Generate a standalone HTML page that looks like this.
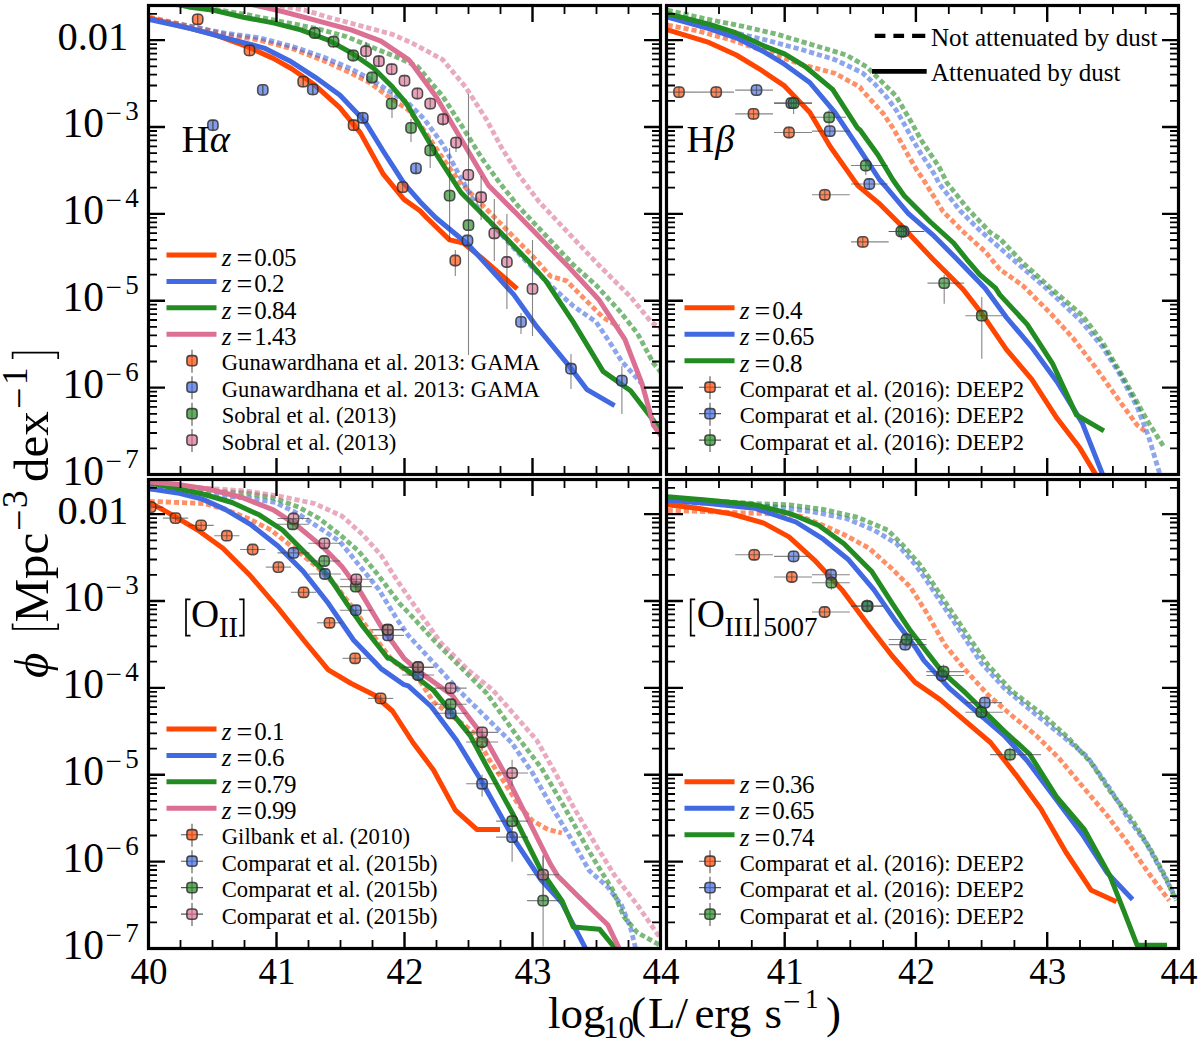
<!DOCTYPE html><html><head><meta charset="utf-8"><style>html,body{margin:0;padding:0;background:#fff;overflow:hidden}svg{display:block}</style></head><body><svg width="1200" height="1047" viewBox="0 0 1200 1047">
<rect width="1200" height="1047" fill="#fff"/>
<defs>
<clipPath id="cTL"><rect x="148.5" y="5.5" width="512" height="469"/></clipPath>
<clipPath id="cTR"><rect x="666.5" y="5.5" width="512" height="469"/></clipPath>
<clipPath id="cBL"><rect x="148.5" y="479.5" width="512" height="469"/></clipPath>
<clipPath id="cBR"><rect x="666.5" y="479.5" width="512" height="469"/></clipPath>
</defs>
<g clip-path="url(#cTL)" fill="none" stroke-linejoin="round">
<path d="M149.6,17.2 L190.8,26.4 L225.2,34.4 L259.6,40.1 L294.0,49.3 L323.8,60.7 L351.2,73.3 L369.6,82.5 L387.9,96.3 L408.5,110.0 L424.4,130.6 L442.7,158.1 L458.8,181.0 L532.1,255.6 L550.4,276.2 L566.5,280.8 L584.8,299.2 L603.1,317.5 L619.2,326.7" stroke="#ff4500" stroke-opacity="0.6" stroke-width="4.8" stroke-dasharray="5.2 2.9"/>
<path d="M149.6,18.3 L190.8,26.4 L225.2,33.2 L259.6,37.8 L294.0,47.0 L323.8,57.3 L351.2,68.8 L374.2,81.4 L397.1,96.3 L408.3,103.1 L424.4,119.2 L442.7,144.4 L458.8,174.2 L479.4,210.8 L522.9,257.9 L550.4,285.4 L573.3,306.0 L596.2,322.1 L610.0,342.7 L621.5,361.0 L642.1,384.0" stroke="#4169e1" stroke-opacity="0.6" stroke-width="4.8" stroke-dasharray="5.2 2.9"/>
<path d="M174.8,4.6 L213.8,9.2 L248.1,14.9 L282.5,21.8 L316.9,28.6 L346.7,36.7 L374.2,48.1 L397.1,57.3 L417.5,66.5 L442.7,96.3 L463.3,128.3 L481.7,158.1 L500.0,183.3 L518.3,206.3 L573.3,264.8 L596.2,285.4 L619.2,310.6 L637.5,333.5 L653.5,363.3 L665.0,377.1" stroke="#228b22" stroke-opacity="0.6" stroke-width="4.8" stroke-dasharray="5.2 2.9"/>
<path d="M200.0,-8.0 L259.6,2.3 L305.4,10.3 L328.3,17.2 L362.7,26.4 L392.5,34.4 L412.9,43.5 L442.7,59.6 L465.6,87.1 L486.2,119.2 L502.3,149.0 L518.3,174.2 L539.0,201.7 L596.2,262.5 L630.6,296.9 L651.2,322.1 L665.0,331.2" stroke="#db7093" stroke-opacity="0.6" stroke-width="4.8" stroke-dasharray="5.2 2.9"/>
<path d="M149.6,18.3 L190.8,28.6 L213.8,34.4 L248.1,47.0 L273.3,58.4 L291.7,68.8 L314.6,84.8 L339.8,107.7 L360.4,132.9 L383.3,174.2 L404.0,199.4 L420.0,210.8 L426.7,217.7 L449.6,239.9 L463.3,243.0 L481.7,257.9 L517.2,288.9" stroke="#ff4500" stroke-width="5.0"/>
<path d="M149.6,19.5 L190.8,28.6 L225.2,37.8 L264.2,48.1 L289.4,60.7 L314.6,76.8 L339.8,95.1 L365.0,121.5 L383.3,151.2 L404.0,183.3 L420.0,201.7 L435.8,217.7 L467.9,244.2 L490.8,269.4 L513.8,294.6 L536.7,326.7 L568.8,365.6 L587.1,389.7 L614.6,405.7" stroke="#4169e1" stroke-width="5.0"/>
<path d="M150.0,-2.0 L188.5,6.9 L213.8,10.3 L243.5,17.2 L273.3,22.9 L300.8,29.8 L328.3,40.1 L351.2,52.7 L374.2,68.8 L392.5,87.1 L406.2,103.1 L419.8,126.0 L435.8,153.5 L461.0,192.5 L486.2,217.7 L527.5,260.2 L545.8,280.8 L573.3,322.1 L603.1,371.4 L630.6,390.8 L653.5,420.6 L665.0,436.7" stroke="#228b22" stroke-width="5.0"/>
<path d="M200.0,-8.0 L261.9,6.9 L282.5,11.5 L316.9,20.6 L351.2,29.8 L381.0,41.2 L408.5,59.6 L410.6,61.9 L435.8,96.3 L458.8,135.2 L488.5,185.6 L516.0,213.1 L568.8,267.1 L598.5,299.2 L624.9,339.3 L642.1,384.0 L653.5,425.2 L665.0,441.2" stroke="#db7093" stroke-width="5.0"/>
</g>
<g clip-path="url(#cTR)" fill="none" stroke-linejoin="round">
<path d="M667.6,25.2 L697.4,30.9 L731.8,40.1 L766.1,51.6 L800.5,64.2 L834.9,73.3 L860.1,87.1 L861.2,89.2 L871.7,100.8 L883.3,113.7 L892.7,127.7 L900.8,141.7 L909.0,156.8 L917.2,170.8 L923.0,179.0 L943.0,211.5 L964.0,232.5 L985.1,251.5 L999.8,269.3 L1022.6,285.4 L1050.1,312.9 L1073.0,338.1 L1095.9,367.9 L1118.8,400.0 L1137.2,425.2 L1146.3,432.1" stroke="#ff4500" stroke-opacity="0.6" stroke-width="4.8" stroke-dasharray="5.2 2.9"/>
<path d="M667.6,17.2 L697.4,22.9 L731.8,32.1 L766.1,40.1 L800.5,49.3 L834.9,59.6 L862.3,72.8 L875.2,84.5 L886.8,97.3 L896.2,110.2 L904.3,124.2 L912.5,139.3 L920.7,153.3 L930.0,167.3 L935.8,176.7 L938.8,183.2 L959.9,210.5 L979.8,230.4 L995.6,244.1 L1011.1,257.9 L1045.5,287.7 L1079.9,319.8 L1102.8,347.3 L1118.8,372.5 L1137.2,406.9 L1148.6,436.7 L1160.1,474.9" stroke="#4169e1" stroke-opacity="0.6" stroke-width="4.8" stroke-dasharray="5.2 2.9"/>
<path d="M667.6,10.3 L708.8,19.5 L743.2,26.4 L777.6,34.4 L812.0,44.7 L846.3,55.0 L867.0,67.0 L883.3,83.3 L896.2,96.2 L904.3,110.2 L912.5,124.2 L920.7,139.3 L930.0,153.3 L939.3,167.3 L947.2,183.2 L968.3,209.4 L990.3,232.5 L1000.0,238.8 L1022.6,262.5 L1050.1,287.7 L1082.2,315.2 L1102.8,342.7 L1125.7,381.7 L1148.6,422.9 L1164.7,448.1" stroke="#228b22" stroke-opacity="0.6" stroke-width="4.8" stroke-dasharray="5.2 2.9"/>
<path d="M667.6,29.8 L708.8,42.4 L736.3,55.0 L759.2,68.8 L784.5,85.9 L809.7,112.3 L830.3,146.7 L857.8,185.6 L880.0,204.2 L901.0,225.2 L932.5,258.8 L963.0,289.3 L981.3,312.9 L1006.5,349.6 L1031.8,379.4 L1057.0,418.3 L1079.9,448.1 L1095.9,474.9" stroke="#ff4500" stroke-width="5.0"/>
<path d="M667.6,17.2 L708.8,28.6 L736.3,37.8 L761.5,50.4 L784.5,64.2 L809.7,82.5 L834.9,112.3 L860.0,149.8 L879.8,180.0 L886.3,187.4 L908.4,213.6 L932.5,234.6 L953.6,255.7 L985.1,288.2 L1006.5,317.5 L1031.8,347.3 L1057.0,381.7 L1082.2,422.9 L1102.8,474.9" stroke="#4169e1" stroke-width="5.0"/>
<path d="M667.6,13.8 L708.8,24.1 L734.0,32.1 L763.8,45.8 L784.5,53.9 L805.1,66.5 L832.6,89.4 L857.8,128.3 L860.0,130.0 L878.0,155.0 L893.0,180.0 L904.2,195.8 L930.4,222.0 L953.6,243.0 L966.2,258.8 L979.8,274.6 L995.6,288.2 L999.7,294.6 L1027.2,324.4 L1052.4,363.3 L1076.4,414.9 L1103.9,430.9" stroke="#228b22" stroke-width="5.0"/>
</g>
<g clip-path="url(#cBL)" fill="none" stroke-linejoin="round">
<path d="M149.6,501.4 L179.4,502.5 L204.6,503.6 L225.2,509.4 L248.1,518.5 L271.0,530.0 L294.0,548.3 L316.9,566.7 L335.2,585.0 L351.2,605.6 L369.6,630.8 L392.5,660.6 L420.0,681.2 L433.5,701.9 L474.8,733.3 L488.5,758.5 L502.3,779.2 L518.3,804.4 L532.1,820.4 L548.1,829.6 L561.9,833.0" stroke="#ff4500" stroke-opacity="0.6" stroke-width="4.8" stroke-dasharray="5.2 2.9"/>
<path d="M149.6,488.8 L213.8,495.6 L248.1,497.9 L275.6,502.5 L298.5,514.0 L319.2,527.7 L339.8,541.5 L360.4,566.7 L378.8,589.6 L397.1,619.4 L408.3,635.4 L435.8,665.2 L458.8,690.4 L511.5,742.5 L532.1,772.3 L550.4,804.4 L571.0,838.8 L589.4,870.8 L607.7,886.9 L621.5,905.2 L630.6,928.1 L635.2,946.5 L637.5,957.9" stroke="#4169e1" stroke-opacity="0.6" stroke-width="4.8" stroke-dasharray="5.2 2.9"/>
<path d="M149.6,486.5 L213.8,491.0 L248.1,493.3 L273.3,497.9 L298.5,507.1 L319.2,518.5 L339.8,534.6 L358.1,550.6 L378.8,575.8 L399.4,603.3 L408.3,612.5 L435.8,642.3 L463.3,669.8 L486.2,692.7 L518.3,737.9 L541.2,767.7 L564.2,806.7 L587.1,847.9 L600.8,870.8 L612.3,889.2 L623.8,916.7 L637.5,932.7 L658.1,944.2 L669.6,948.8" stroke="#228b22" stroke-opacity="0.6" stroke-width="4.8" stroke-dasharray="5.2 2.9"/>
<path d="M149.6,484.2 L213.8,488.8 L245.8,491.0 L282.5,496.8 L314.6,503.6 L342.1,516.2 L362.7,534.6 L381.0,555.2 L397.1,580.4 L412.9,603.3 L440.4,642.3 L467.9,669.8 L493.1,690.4 L536.7,740.2 L555.0,772.3 L573.3,806.7 L596.2,845.6 L614.6,875.4 L637.5,905.2 L658.1,935.0 L669.6,941.9" stroke="#db7093" stroke-opacity="0.6" stroke-width="4.8" stroke-dasharray="5.2 2.9"/>
<path d="M149.6,502.5 L172.5,515.1 L197.7,530.0 L222.9,548.3 L250.4,575.8 L277.9,607.9 L305.4,642.3 L328.3,669.8 L351.2,683.5 L374.2,695.0 L392.5,711.0 L412.9,742.5 L433.5,770.0 L455.3,810.1 L477.1,829.6 L500.0,829.6" stroke="#ff4500" stroke-width="5.0"/>
<path d="M149.6,488.8 L179.4,493.3 L202.3,499.1 L225.2,509.4 L250.4,524.3 L277.9,546.0 L303.1,571.2 L328.3,603.3 L353.5,640.0 L381.0,668.6 L404.0,684.7 L408.3,685.8 L431.2,706.5 L456.5,740.2 L481.7,781.5 L513.8,838.8 L541.2,880.0 L561.9,902.9 L591.7,960.2" stroke="#4169e1" stroke-width="5.0"/>
<path d="M149.6,483.0 L179.4,488.8 L204.6,494.5 L232.1,502.5 L259.6,515.1 L282.5,530.0 L305.4,552.9 L328.3,575.8 L346.7,603.3 L362.7,626.2 L387.9,658.3 L390.0,658.3 L412.9,674.4 L433.5,690.4 L470.2,735.6 L486.2,765.4 L513.8,815.8 L541.2,870.8 L561.9,900.6 L573.3,927.0 L599.7,929.3 L619.2,953.3" stroke="#228b22" stroke-width="5.0"/>
<path d="M149.6,481.9 L179.4,484.6 L209.2,489.2 L241.2,497.2 L273.3,509.8 L296.2,525.0 L323.8,547.9 L342.1,566.7 L360.4,591.9 L381.0,626.2 L404.0,658.3 L419.8,672.1 L451.9,695.0 L486.2,740.2 L509.2,781.5 L527.5,818.1 L550.4,864.0 L557.3,875.4 L577.9,896.0 L607.7,924.7 L621.5,953.3" stroke="#db7093" stroke-width="5.0"/>
</g>
<g clip-path="url(#cBR)" fill="none" stroke-linejoin="round">
<path d="M667.6,510.5 L708.8,511.7 L743.2,512.8 L777.6,514.0 L800.5,516.2 L823.4,525.4 L846.3,535.7 L869.2,548.3 L892.2,569.0 L910.5,587.3 L926.5,612.5 L944.7,644.6 L965.3,669.8 L988.2,695.0 L1011.1,715.0 L1036.3,735.6 L1059.2,758.5 L1082.2,786.0 L1107.4,815.8 L1128.0,843.3 L1148.6,873.1 L1169.2,900.6" stroke="#ff4500" stroke-opacity="0.6" stroke-width="4.8" stroke-dasharray="5.2 2.9"/>
<path d="M667.6,502.5 L731.8,503.6 L777.6,507.1 L812.0,511.7 L846.3,518.5 L873.8,530.0 L896.8,543.8 L915.1,564.4 L926.5,580.4 L944.7,607.9 L963.0,635.4 L981.3,662.9 L1004.2,688.1 L1036.3,714.9 L1059.2,733.3 L1086.8,756.2 L1109.7,788.3 L1128.0,818.1 L1146.3,843.3 L1160.1,868.5 L1176.1,898.3" stroke="#4169e1" stroke-opacity="0.6" stroke-width="4.8" stroke-dasharray="5.2 2.9"/>
<path d="M667.6,497.9 L754.7,503.6 L789.0,504.8 L823.4,509.4 L857.8,517.4 L887.6,530.0 L903.6,546.0 L919.7,564.4 L930.9,580.4 L949.2,607.9 L967.6,635.4 L988.2,665.2 L1011.1,690.4 L1043.2,714.9 L1068.4,737.9 L1091.3,763.1 L1109.7,790.6 L1132.6,820.4 L1150.9,850.2 L1164.7,875.4 L1176.1,900.6" stroke="#228b22" stroke-opacity="0.6" stroke-width="4.8" stroke-dasharray="5.2 2.9"/>
<path d="M667.6,504.8 L697.4,508.2 L731.8,514.0 L763.8,523.1 L789.0,536.9 L814.2,559.8 L841.8,589.6 L869.2,626.2 L892.2,656.0 L915.1,682.4 L940.1,699.6 L990.5,742.5 L1015.7,774.6 L1040.9,809.0 L1066.1,852.5 L1091.3,890.3 L1116.5,901.8" stroke="#ff4500" stroke-width="5.0"/>
<path d="M667.6,500.2 L708.8,503.6 L754.7,508.2 L795.9,522.0 L823.4,539.2 L848.6,559.8 L873.8,589.6 L894.5,619.4 L915.1,646.9 L924.0,660.6 L949.2,688.1 L1004.2,735.6 L1027.2,760.8 L1054.7,797.5 L1082.2,834.2 L1107.4,873.1 L1132.6,899.5" stroke="#4169e1" stroke-width="5.0"/>
<path d="M667.6,496.8 L708.8,500.2 L754.7,504.8 L791.3,514.0 L818.8,525.4 L844.0,543.8 L871.5,571.2 L892.2,603.3 L910.5,630.8 L926.5,651.5 L942.4,672.1 L965.3,692.7 L1004.2,731.0 L1029.5,754.0 L1057.0,797.5 L1084.5,829.6 L1109.7,875.4 L1123.4,909.8 L1137.2,945.3 L1167.0,945.3" stroke="#228b22" stroke-width="5.0"/>
</g>
<g clip-path="url(#cTL)">
<g stroke="#2a2a2a" stroke-opacity="0.8" stroke-width="1.6">
<rect x="192.6" y="14.2" width="10.2" height="10.2" rx="3.6" fill="#ff4500" fill-opacity="0.65"/>
<rect x="244.4" y="45.3" width="10.2" height="10.2" rx="3.6" fill="#ff4500" fill-opacity="0.65"/>
<rect x="298.1" y="76.5" width="10.2" height="10.2" rx="3.6" fill="#ff4500" fill-opacity="0.65"/>
<rect x="348.5" y="120.1" width="10.2" height="10.2" rx="3.6" fill="#ff4500" fill-opacity="0.65"/>
<rect x="397.6" y="182.0" width="10.2" height="10.2" rx="3.6" fill="#ff4500" fill-opacity="0.65"/>
<rect x="450.2" y="255.4" width="10.2" height="10.2" rx="3.6" fill="#ff4500" fill-opacity="0.65"/>
<rect x="207.8" y="120.1" width="10.2" height="10.2" rx="3.6" fill="#4169e1" fill-opacity="0.65"/>
<rect x="257.7" y="84.8" width="10.2" height="10.2" rx="3.6" fill="#4169e1" fill-opacity="0.65"/>
<rect x="307.7" y="84.3" width="10.2" height="10.2" rx="3.6" fill="#4169e1" fill-opacity="0.65"/>
<rect x="357.7" y="112.7" width="10.2" height="10.2" rx="3.6" fill="#4169e1" fill-opacity="0.65"/>
<rect x="410.9" y="163.2" width="10.2" height="10.2" rx="3.6" fill="#4169e1" fill-opacity="0.65"/>
<rect x="462.4" y="235.4" width="10.2" height="10.2" rx="3.6" fill="#4169e1" fill-opacity="0.65"/>
<rect x="515.9" y="316.8" width="10.2" height="10.2" rx="3.6" fill="#4169e1" fill-opacity="0.65"/>
<rect x="565.9" y="363.6" width="10.2" height="10.2" rx="3.6" fill="#4169e1" fill-opacity="0.65"/>
<rect x="616.8" y="375.5" width="10.2" height="10.2" rx="3.6" fill="#4169e1" fill-opacity="0.65"/>
<rect x="309.6" y="27.9" width="10.2" height="10.2" rx="3.6" fill="#228b22" fill-opacity="0.65"/>
<rect x="328.4" y="36.6" width="10.2" height="10.2" rx="3.6" fill="#228b22" fill-opacity="0.65"/>
<rect x="348.1" y="50.4" width="10.2" height="10.2" rx="3.6" fill="#228b22" fill-opacity="0.65"/>
<rect x="366.9" y="72.4" width="10.2" height="10.2" rx="3.6" fill="#228b22" fill-opacity="0.65"/>
<rect x="386.6" y="98.5" width="10.2" height="10.2" rx="3.6" fill="#228b22" fill-opacity="0.65"/>
<rect x="405.9" y="122.8" width="10.2" height="10.2" rx="3.6" fill="#228b22" fill-opacity="0.65"/>
<rect x="425.1" y="145.3" width="10.2" height="10.2" rx="3.6" fill="#228b22" fill-opacity="0.65"/>
<rect x="444.5" y="190.5" width="10.2" height="10.2" rx="3.6" fill="#228b22" fill-opacity="0.65"/>
<rect x="463.4" y="220.1" width="10.2" height="10.2" rx="3.6" fill="#228b22" fill-opacity="0.65"/>
<rect x="360.9" y="46.1" width="10.2" height="10.2" rx="3.6" fill="#db7093" fill-opacity="0.65"/>
<rect x="373.8" y="56.1" width="10.2" height="10.2" rx="3.6" fill="#db7093" fill-opacity="0.65"/>
<rect x="386.6" y="64.1" width="10.2" height="10.2" rx="3.6" fill="#db7093" fill-opacity="0.65"/>
<rect x="399.4" y="75.6" width="10.2" height="10.2" rx="3.6" fill="#db7093" fill-opacity="0.65"/>
<rect x="412.3" y="88.4" width="10.2" height="10.2" rx="3.6" fill="#db7093" fill-opacity="0.65"/>
<rect x="425.1" y="98.5" width="10.2" height="10.2" rx="3.6" fill="#db7093" fill-opacity="0.65"/>
<rect x="437.9" y="114.1" width="10.2" height="10.2" rx="3.6" fill="#db7093" fill-opacity="0.65"/>
<rect x="450.9" y="137.5" width="10.2" height="10.2" rx="3.6" fill="#db7093" fill-opacity="0.65"/>
<rect x="463.2" y="169.7" width="10.2" height="10.2" rx="3.6" fill="#db7093" fill-opacity="0.65"/>
<rect x="476.0" y="192.1" width="10.2" height="10.2" rx="3.6" fill="#db7093" fill-opacity="0.65"/>
<rect x="489.2" y="228.2" width="10.2" height="10.2" rx="3.6" fill="#db7093" fill-opacity="0.65"/>
<rect x="501.8" y="256.9" width="10.2" height="10.2" rx="3.6" fill="#db7093" fill-opacity="0.65"/>
<rect x="527.4" y="283.8" width="10.2" height="10.2" rx="3.6" fill="#db7093" fill-opacity="0.65"/>
</g>
<g stroke="#444" stroke-width="1.1" stroke-opacity="0.65" fill="none">
<path d="M468.5,94 V355"/>
<path d="M449.6,148 V241"/>
<path d="M455.3,250 V276"/>
<path d="M481.1,176 V220"/>
<path d="M494.3,199 V261"/>
<path d="M506.9,214 V309"/>
<path d="M532.5,240 V336"/>
<path d="M521,313 V334"/>
<path d="M571,354 V389"/>
<path d="M621.9,366 V414"/>
<path d="M411,119 V142"/>
<path d="M430.2,137 V168"/>
<path d="M443,114 V126"/>
<path d="M456,137 V152"/>
<path d="M392,92 V118"/>
<path d="M366.1,42 V60"/>
<path d="M378.8,55 V67"/>
<path d="M197.7,14 V25"/>
<path d="M212.9,120 V131"/>
<path d="M262.8,86 V94"/>
<path d="M312.8,85 V94"/>
<path d="M303.2,77 V87"/>
<path d="M249.5,46 V55"/>
<path d="M353.6,121 V130"/>
<path d="M362.8,113 V122"/>
<path d="M416,164 V173"/>
<path d="M197.7,13.3 V25.3"/>
<path d="M249.5,44.4 V56.4"/>
<path d="M303.2,75.6 V87.6"/>
<path d="M353.6,119.2 V131.2"/>
<path d="M402.7,181.1 V193.1"/>
<path d="M455.3,254.5 V266.5"/>
<path d="M212.9,119.2 V131.2"/>
<path d="M262.8,83.9 V95.9"/>
<path d="M312.8,83.4 V95.4"/>
<path d="M362.8,111.8 V123.8"/>
<path d="M416,162.3 V174.3"/>
<path d="M467.5,234.5 V246.5"/>
<path d="M521,315.9 V327.9"/>
<path d="M571,362.7 V374.7"/>
<path d="M621.9,374.6 V386.6"/>
<path d="M314.7,27 V39"/>
<path d="M333.5,35.7 V47.7"/>
<path d="M353.2,49.5 V61.5"/>
<path d="M372,71.5 V83.5"/>
<path d="M391.7,97.6 V109.6"/>
<path d="M411,121.9 V133.9"/>
<path d="M430.2,144.4 V156.4"/>
<path d="M449.6,189.6 V201.6"/>
<path d="M468.5,219.2 V231.2"/>
<path d="M366,45.2 V57.2"/>
<path d="M378.9,55.2 V67.2"/>
<path d="M391.7,63.2 V75.2"/>
<path d="M404.5,74.7 V86.7"/>
<path d="M417.4,87.5 V99.5"/>
<path d="M430.2,97.6 V109.6"/>
<path d="M443,113.2 V125.2"/>
<path d="M456,136.6 V148.6"/>
<path d="M468.3,168.8 V180.8"/>
<path d="M481.1,191.2 V203.2"/>
<path d="M494.3,227.3 V239.3"/>
<path d="M506.9,256 V268"/>
<path d="M532.5,282.9 V294.9"/>
</g></g>
<g clip-path="url(#cTR)">
<g stroke="#2a2a2a" stroke-opacity="0.8" stroke-width="1.6">
<rect x="673.9" y="87.0" width="10.2" height="10.2" rx="3.6" fill="#ff4500" fill-opacity="0.65"/>
<rect x="711.1" y="87.0" width="10.2" height="10.2" rx="3.6" fill="#ff4500" fill-opacity="0.65"/>
<rect x="748.4" y="108.8" width="10.2" height="10.2" rx="3.6" fill="#ff4500" fill-opacity="0.65"/>
<rect x="783.9" y="127.4" width="10.2" height="10.2" rx="3.6" fill="#ff4500" fill-opacity="0.65"/>
<rect x="819.7" y="189.7" width="10.2" height="10.2" rx="3.6" fill="#ff4500" fill-opacity="0.65"/>
<rect x="857.7" y="236.8" width="10.2" height="10.2" rx="3.6" fill="#ff4500" fill-opacity="0.65"/>
<rect x="751.4" y="85.0" width="10.2" height="10.2" rx="3.6" fill="#4169e1" fill-opacity="0.65"/>
<rect x="786.2" y="98.0" width="10.2" height="10.2" rx="3.6" fill="#4169e1" fill-opacity="0.65"/>
<rect x="824.7" y="126.0" width="10.2" height="10.2" rx="3.6" fill="#4169e1" fill-opacity="0.65"/>
<rect x="864.2" y="178.9" width="10.2" height="10.2" rx="3.6" fill="#4169e1" fill-opacity="0.65"/>
<rect x="898.5" y="226.4" width="10.2" height="10.2" rx="3.6" fill="#4169e1" fill-opacity="0.65"/>
<rect x="788.5" y="98.0" width="10.2" height="10.2" rx="3.6" fill="#228b22" fill-opacity="0.65"/>
<rect x="824.0" y="112.2" width="10.2" height="10.2" rx="3.6" fill="#228b22" fill-opacity="0.65"/>
<rect x="860.7" y="160.4" width="10.2" height="10.2" rx="3.6" fill="#228b22" fill-opacity="0.65"/>
<rect x="896.2" y="226.4" width="10.2" height="10.2" rx="3.6" fill="#228b22" fill-opacity="0.65"/>
<rect x="939.1" y="278.0" width="10.2" height="10.2" rx="3.6" fill="#228b22" fill-opacity="0.65"/>
<rect x="976.7" y="310.6" width="10.2" height="10.2" rx="3.6" fill="#228b22" fill-opacity="0.65"/>
</g>
<g stroke="#444" stroke-width="1.1" stroke-opacity="0.65" fill="none">
<path d="M667.6,92.1 H697.4"/>
<path d="M679,86.1 V98.1"/>
<path d="M697.4,92.1 H734"/>
<path d="M716.2,86.1 V98.1"/>
<path d="M735.2,113.9 H773"/>
<path d="M753.5,107.9 V119.9"/>
<path d="M774,132.5 H812"/>
<path d="M789,126.5 V138.5"/>
<path d="M812,194.8 H849.8"/>
<path d="M824.8,188.8 V200.8"/>
<path d="M851,241.9 H888.7"/>
<path d="M862.8,235.9 V247.9"/>
<path d="M735.2,90.1 H773"/>
<path d="M756.5,84.1 V96.1"/>
<path d="M774,103.1 H812"/>
<path d="M791.3,97.1 V109.1"/>
<path d="M812,131.1 H849.8"/>
<path d="M829.8,125.1 V137.1"/>
<path d="M851,184 H887.6"/>
<path d="M869.3,178 V190"/>
<path d="M888.7,231.5 H924.3"/>
<path d="M903.6,225.5 V237.5"/>
<path d="M774,103.1 H812"/>
<path d="M793.6,96 V114"/>
<path d="M812,117.3 H846"/>
<path d="M829.1,110 V125"/>
<path d="M851,165.5 H887.6"/>
<path d="M865.8,158 V175"/>
<path d="M888.7,231.5 H924.3"/>
<path d="M901.3,223 V240"/>
<path d="M927.5,283.1 H964.1"/>
<path d="M944.2,275 V303.7"/>
<path d="M965.3,315.7 H1002"/>
<path d="M981.8,296.9 V358.8"/>
</g></g>
<g clip-path="url(#cBL)">
<g stroke="#2a2a2a" stroke-opacity="0.8" stroke-width="1.6">
<rect x="145.6" y="502.0" width="10.2" height="10.2" rx="3.6" fill="#ff4500" fill-opacity="0.65"/>
<rect x="170.4" y="513.0" width="10.2" height="10.2" rx="3.6" fill="#ff4500" fill-opacity="0.65"/>
<rect x="196.0" y="520.3" width="10.2" height="10.2" rx="3.6" fill="#ff4500" fill-opacity="0.65"/>
<rect x="221.7" y="530.6" width="10.2" height="10.2" rx="3.6" fill="#ff4500" fill-opacity="0.65"/>
<rect x="247.6" y="544.4" width="10.2" height="10.2" rx="3.6" fill="#ff4500" fill-opacity="0.65"/>
<rect x="273.3" y="562.0" width="10.2" height="10.2" rx="3.6" fill="#ff4500" fill-opacity="0.65"/>
<rect x="298.5" y="587.2" width="10.2" height="10.2" rx="3.6" fill="#ff4500" fill-opacity="0.65"/>
<rect x="324.4" y="617.7" width="10.2" height="10.2" rx="3.6" fill="#ff4500" fill-opacity="0.65"/>
<rect x="350.0" y="653.2" width="10.2" height="10.2" rx="3.6" fill="#ff4500" fill-opacity="0.65"/>
<rect x="375.5" y="693.3" width="10.2" height="10.2" rx="3.6" fill="#ff4500" fill-opacity="0.65"/>
<rect x="288.4" y="547.8" width="10.2" height="10.2" rx="3.6" fill="#4169e1" fill-opacity="0.65"/>
<rect x="319.8" y="568.9" width="10.2" height="10.2" rx="3.6" fill="#4169e1" fill-opacity="0.65"/>
<rect x="350.7" y="605.1" width="10.2" height="10.2" rx="3.6" fill="#4169e1" fill-opacity="0.65"/>
<rect x="382.9" y="630.3" width="10.2" height="10.2" rx="3.6" fill="#4169e1" fill-opacity="0.65"/>
<rect x="413.1" y="669.9" width="10.2" height="10.2" rx="3.6" fill="#4169e1" fill-opacity="0.65"/>
<rect x="445.6" y="708.2" width="10.2" height="10.2" rx="3.6" fill="#4169e1" fill-opacity="0.65"/>
<rect x="477.0" y="778.7" width="10.2" height="10.2" rx="3.6" fill="#4169e1" fill-opacity="0.65"/>
<rect x="507.0" y="832.0" width="10.2" height="10.2" rx="3.6" fill="#4169e1" fill-opacity="0.65"/>
<rect x="287.7" y="519.2" width="10.2" height="10.2" rx="3.6" fill="#228b22" fill-opacity="0.65"/>
<rect x="319.1" y="555.9" width="10.2" height="10.2" rx="3.6" fill="#228b22" fill-opacity="0.65"/>
<rect x="350.7" y="581.5" width="10.2" height="10.2" rx="3.6" fill="#228b22" fill-opacity="0.65"/>
<rect x="382.4" y="624.6" width="10.2" height="10.2" rx="3.6" fill="#228b22" fill-opacity="0.65"/>
<rect x="412.6" y="662.4" width="10.2" height="10.2" rx="3.6" fill="#228b22" fill-opacity="0.65"/>
<rect x="445.6" y="699.1" width="10.2" height="10.2" rx="3.6" fill="#228b22" fill-opacity="0.65"/>
<rect x="477.0" y="736.9" width="10.2" height="10.2" rx="3.6" fill="#228b22" fill-opacity="0.65"/>
<rect x="507.0" y="816.0" width="10.2" height="10.2" rx="3.6" fill="#228b22" fill-opacity="0.65"/>
<rect x="538.0" y="895.5" width="10.2" height="10.2" rx="3.6" fill="#228b22" fill-opacity="0.65"/>
<rect x="288.4" y="513.4" width="10.2" height="10.2" rx="3.6" fill="#db7093" fill-opacity="0.65"/>
<rect x="319.3" y="538.2" width="10.2" height="10.2" rx="3.6" fill="#db7093" fill-opacity="0.65"/>
<rect x="351.2" y="574.2" width="10.2" height="10.2" rx="3.6" fill="#db7093" fill-opacity="0.65"/>
<rect x="382.8" y="624.6" width="10.2" height="10.2" rx="3.6" fill="#db7093" fill-opacity="0.65"/>
<rect x="413.1" y="661.9" width="10.2" height="10.2" rx="3.6" fill="#db7093" fill-opacity="0.65"/>
<rect x="445.6" y="683.0" width="10.2" height="10.2" rx="3.6" fill="#db7093" fill-opacity="0.65"/>
<rect x="477.0" y="727.3" width="10.2" height="10.2" rx="3.6" fill="#db7093" fill-opacity="0.65"/>
<rect x="507.0" y="767.9" width="10.2" height="10.2" rx="3.6" fill="#db7093" fill-opacity="0.65"/>
<rect x="538.0" y="869.6" width="10.2" height="10.2" rx="3.6" fill="#db7093" fill-opacity="0.65"/>
</g>
<g stroke="#444" stroke-width="1.1" stroke-opacity="0.65" fill="none">
<path d="M138.1,507.1 H163.29999999999998"/>
<path d="M150.7,503.1 V511.1"/>
<path d="M162.9,518.1 H188.1"/>
<path d="M175.5,514.1 V522.1"/>
<path d="M188.5,525.4 H213.7"/>
<path d="M201.1,521.4 V529.4"/>
<path d="M214.20000000000002,535.7 H239.4"/>
<path d="M226.8,531.7 V539.7"/>
<path d="M240.1,549.5 H265.3"/>
<path d="M252.7,545.5 V553.5"/>
<path d="M265.79999999999995,567.1 H291.0"/>
<path d="M278.4,563.1 V571.1"/>
<path d="M291.0,592.3 H316.20000000000005"/>
<path d="M303.6,588.3 V596.3"/>
<path d="M316.9,622.8 H342.1"/>
<path d="M329.5,618.8 V626.8"/>
<path d="M342.5,658.3 H367.70000000000005"/>
<path d="M355.1,654.3 V662.3"/>
<path d="M368.0,698.4 H393.20000000000005"/>
<path d="M380.6,694.4 V702.4"/>
<path d="M277.5,552.9 H309.5"/>
<path d="M293.5,547.9 V557.9"/>
<path d="M308.9,574 H340.9"/>
<path d="M324.9,569 V579"/>
<path d="M339.8,610.2 H371.8"/>
<path d="M355.8,605.2 V615.2"/>
<path d="M372,635.4 H404"/>
<path d="M388,630.4 V640.4"/>
<path d="M402.2,675 H434.2"/>
<path d="M418.2,670 V680"/>
<path d="M434.7,713.3 H466.7"/>
<path d="M450.7,708.3 V718.3"/>
<path d="M466.1,783.8 H498.1"/>
<path d="M482.1,774.6 V796.4"/>
<path d="M496.1,837.1 H528.1"/>
<path d="M512.1,822.7 V861.7"/>
<path d="M276.8,524.3 H308.8"/>
<path d="M292.8,519.3 V529.3"/>
<path d="M308.2,561 H340.2"/>
<path d="M324.2,556 V566"/>
<path d="M339.8,586.6 H371.8"/>
<path d="M355.8,581.6 V591.6"/>
<path d="M371.5,629.7 H403.5"/>
<path d="M387.5,624.7 V634.7"/>
<path d="M401.7,667.5 H433.7"/>
<path d="M417.7,662.5 V672.5"/>
<path d="M434.7,704.2 H466.7"/>
<path d="M450.7,699.2 V709.2"/>
<path d="M466.1,742 H498.1"/>
<path d="M482.1,735 V751"/>
<path d="M496.1,821.1 H528.1"/>
<path d="M512.1,812 V830"/>
<path d="M527.1,900.6 H559.1"/>
<path d="M543.1,856 V946.5"/>
<path d="M277.5,518.5 H309.5"/>
<path d="M293.5,513.5 V523.5"/>
<path d="M308.4,543.3 H340.4"/>
<path d="M324.4,538.3 V548.3"/>
<path d="M340.3,579.3 H372.3"/>
<path d="M356.3,574.3 V584.3"/>
<path d="M371.9,629.7 H403.9"/>
<path d="M387.9,624.7 V634.7"/>
<path d="M402.2,667 H434.2"/>
<path d="M418.2,662 V672"/>
<path d="M434.7,688.1 H466.7"/>
<path d="M450.7,683.1 V693.1"/>
<path d="M466.1,732.4 H498.1"/>
<path d="M482.1,727.4 V737.4"/>
<path d="M496.1,773 H528.1"/>
<path d="M512.1,759.7 V786"/>
<path d="M527.1,874.7 H559.1"/>
<path d="M543.1,855 V900"/>
</g></g>
<g clip-path="url(#cBR)">
<g stroke="#2a2a2a" stroke-opacity="0.8" stroke-width="1.6">
<rect x="749.1" y="549.7" width="10.2" height="10.2" rx="3.6" fill="#ff4500" fill-opacity="0.65"/>
<rect x="786.7" y="571.9" width="10.2" height="10.2" rx="3.6" fill="#ff4500" fill-opacity="0.65"/>
<rect x="819.5" y="606.9" width="10.2" height="10.2" rx="3.6" fill="#ff4500" fill-opacity="0.65"/>
<rect x="788.5" y="551.3" width="10.2" height="10.2" rx="3.6" fill="#4169e1" fill-opacity="0.65"/>
<rect x="825.9" y="569.6" width="10.2" height="10.2" rx="3.6" fill="#4169e1" fill-opacity="0.65"/>
<rect x="862.6" y="601.0" width="10.2" height="10.2" rx="3.6" fill="#4169e1" fill-opacity="0.65"/>
<rect x="900.1" y="639.5" width="10.2" height="10.2" rx="3.6" fill="#4169e1" fill-opacity="0.65"/>
<rect x="936.8" y="670.4" width="10.2" height="10.2" rx="3.6" fill="#4169e1" fill-opacity="0.65"/>
<rect x="979.7" y="697.5" width="10.2" height="10.2" rx="3.6" fill="#4169e1" fill-opacity="0.65"/>
<rect x="826.3" y="577.6" width="10.2" height="10.2" rx="3.6" fill="#228b22" fill-opacity="0.65"/>
<rect x="861.9" y="601.0" width="10.2" height="10.2" rx="3.6" fill="#228b22" fill-opacity="0.65"/>
<rect x="901.5" y="634.4" width="10.2" height="10.2" rx="3.6" fill="#228b22" fill-opacity="0.65"/>
<rect x="938.4" y="666.5" width="10.2" height="10.2" rx="3.6" fill="#228b22" fill-opacity="0.65"/>
<rect x="976.2" y="707.1" width="10.2" height="10.2" rx="3.6" fill="#228b22" fill-opacity="0.65"/>
<rect x="1004.9" y="749.5" width="10.2" height="10.2" rx="3.6" fill="#228b22" fill-opacity="0.65"/>
</g>
<g stroke="#444" stroke-width="1.1" stroke-opacity="0.65" fill="none">
<path d="M735.2,554.8 H773"/>
<path d="M754.2,548.8 V560.8"/>
<path d="M774,577 H812"/>
<path d="M791.8,571 V583"/>
<path d="M812,612 H849.8"/>
<path d="M824.6,606 V618"/>
<path d="M774,556.4 H808.5"/>
<path d="M793.6,550.4 V562.4"/>
<path d="M812,574.7 H849.8"/>
<path d="M831,568.7 V580.7"/>
<path d="M851,606.1 H883"/>
<path d="M867.7,600.1 V612.1"/>
<path d="M888.7,644.6 H926.5"/>
<path d="M905.2,638.6 V650.6"/>
<path d="M926.3,675.5 H964.1"/>
<path d="M941.9,669.5 V681.5"/>
<path d="M965.3,702.6 H1002"/>
<path d="M984.8,696.6 V708.6"/>
<path d="M812,582.7 H849.8"/>
<path d="M831.4,575.7 V589.7"/>
<path d="M851,606.1 H883"/>
<path d="M867,599.1 V613.1"/>
<path d="M888.7,639.5 H926.5"/>
<path d="M906.6,632.5 V646.5"/>
<path d="M926.3,671.6 H964.1"/>
<path d="M943.5,664.6 V678.6"/>
<path d="M965.3,712.2 H1003"/>
<path d="M981.3,705.2 V719.2"/>
<path d="M990,754.6 H1041"/>
<path d="M1010,747.6 V761.6"/>
</g></g>
<path d="M166.5,254.95000000000002 H216.5" stroke="#ff4500" stroke-width="5.0"/>
<text x="221.8" y="265.95000000000005" font-family='"Liberation Serif", serif' font-size="25" letter-spacing="-0.5"><tspan font-style="italic">z</tspan><tspan dx="5.5" dy="1" font-size="28">=</tspan><tspan dx="2.5" dy="-1">0.05</tspan></text>
<path d="M166.5,281.40000000000003 H216.5" stroke="#4169e1" stroke-width="5.0"/>
<text x="221.8" y="292.40000000000003" font-family='"Liberation Serif", serif' font-size="25" letter-spacing="-0.5"><tspan font-style="italic">z</tspan><tspan dx="5.5" dy="1" font-size="28">=</tspan><tspan dx="2.5" dy="-1">0.2</tspan></text>
<path d="M166.5,307.85 H216.5" stroke="#228b22" stroke-width="5.0"/>
<text x="221.8" y="318.85" font-family='"Liberation Serif", serif' font-size="25" letter-spacing="-0.5"><tspan font-style="italic">z</tspan><tspan dx="5.5" dy="1" font-size="28">=</tspan><tspan dx="2.5" dy="-1">0.84</tspan></text>
<path d="M166.5,334.3 H216.5" stroke="#db7093" stroke-width="5.0"/>
<text x="221.8" y="345.3" font-family='"Liberation Serif", serif' font-size="25" letter-spacing="-0.5"><tspan font-style="italic">z</tspan><tspan dx="5.5" dy="1" font-size="28">=</tspan><tspan dx="2.5" dy="-1">1.43</tspan></text>
<path d="M192.0,349.75 V372.75" stroke="#555" stroke-width="1.1"/>
<rect x="186.9" y="355.6" width="10.2" height="10.2" rx="3.3" fill="#ff4500" fill-opacity="0.7" stroke="#2a2a2a" stroke-opacity="0.8" stroke-width="1.6"/>
<text x="221.8" y="370.15" font-family='"Liberation Serif", serif' font-size="22.6">Gunawardhana et al. 2013: GAMA</text>
<path d="M192.0,376.20000000000005 V399.20000000000005" stroke="#555" stroke-width="1.1"/>
<rect x="186.9" y="382.1" width="10.2" height="10.2" rx="3.3" fill="#4169e1" fill-opacity="0.7" stroke="#2a2a2a" stroke-opacity="0.8" stroke-width="1.6"/>
<text x="221.8" y="396.6" font-family='"Liberation Serif", serif' font-size="22.6">Gunawardhana et al. 2013: GAMA</text>
<path d="M192.0,402.65000000000003 V425.65000000000003" stroke="#555" stroke-width="1.1"/>
<rect x="186.9" y="408.6" width="10.2" height="10.2" rx="3.3" fill="#228b22" fill-opacity="0.7" stroke="#2a2a2a" stroke-opacity="0.8" stroke-width="1.6"/>
<text x="221.8" y="423.05" font-family='"Liberation Serif", serif' font-size="22.6">Sobral et al. (2013)</text>
<path d="M192.0,429.1 V452.1" stroke="#555" stroke-width="1.1"/>
<rect x="186.9" y="435.0" width="10.2" height="10.2" rx="3.3" fill="#db7093" fill-opacity="0.7" stroke="#2a2a2a" stroke-opacity="0.8" stroke-width="1.6"/>
<text x="221.8" y="449.5" font-family='"Liberation Serif", serif' font-size="22.6">Sobral et al. (2013)</text>
<path d="M684.5,307.85 H734.5" stroke="#ff4500" stroke-width="5.0"/>
<text x="739.8" y="318.85" font-family='"Liberation Serif", serif' font-size="25" letter-spacing="-0.5"><tspan font-style="italic">z</tspan><tspan dx="5.5" dy="1" font-size="28">=</tspan><tspan dx="2.5" dy="-1">0.4</tspan></text>
<path d="M684.5,334.3 H734.5" stroke="#4169e1" stroke-width="5.0"/>
<text x="739.8" y="345.3" font-family='"Liberation Serif", serif' font-size="25" letter-spacing="-0.5"><tspan font-style="italic">z</tspan><tspan dx="5.5" dy="1" font-size="28">=</tspan><tspan dx="2.5" dy="-1">0.65</tspan></text>
<path d="M684.5,360.75 H734.5" stroke="#228b22" stroke-width="5.0"/>
<text x="739.8" y="371.75" font-family='"Liberation Serif", serif' font-size="25" letter-spacing="-0.5"><tspan font-style="italic">z</tspan><tspan dx="5.5" dy="1" font-size="28">=</tspan><tspan dx="2.5" dy="-1">0.8</tspan></text>
<path d="M710.0,376.20000000000005 V399.20000000000005 M699.0,387.20000000000005 H721.0" stroke="#555" stroke-width="1.1"/>
<rect x="704.9" y="382.1" width="10.2" height="10.2" rx="3.3" fill="#ff4500" fill-opacity="0.7" stroke="#2a2a2a" stroke-opacity="0.8" stroke-width="1.6"/>
<text x="739.8" y="396.6" font-family='"Liberation Serif", serif' font-size="22.6">Comparat et al. (2016): DEEP2</text>
<path d="M710.0,402.65000000000003 V425.65000000000003 M699.0,413.65000000000003 H721.0" stroke="#555" stroke-width="1.1"/>
<rect x="704.9" y="408.6" width="10.2" height="10.2" rx="3.3" fill="#4169e1" fill-opacity="0.7" stroke="#2a2a2a" stroke-opacity="0.8" stroke-width="1.6"/>
<text x="739.8" y="423.05" font-family='"Liberation Serif", serif' font-size="22.6">Comparat et al. (2016): DEEP2</text>
<path d="M710.0,429.1 V452.1 M699.0,440.1 H721.0" stroke="#555" stroke-width="1.1"/>
<rect x="704.9" y="435.0" width="10.2" height="10.2" rx="3.3" fill="#228b22" fill-opacity="0.7" stroke="#2a2a2a" stroke-opacity="0.8" stroke-width="1.6"/>
<text x="739.8" y="449.5" font-family='"Liberation Serif", serif' font-size="22.6">Comparat et al. (2016): DEEP2</text>
<path d="M166.5,728.95 H216.5" stroke="#ff4500" stroke-width="5.0"/>
<text x="221.8" y="739.95" font-family='"Liberation Serif", serif' font-size="25" letter-spacing="-0.5"><tspan font-style="italic">z</tspan><tspan dx="5.5" dy="1" font-size="28">=</tspan><tspan dx="2.5" dy="-1">0.1</tspan></text>
<path d="M166.5,755.4000000000001 H216.5" stroke="#4169e1" stroke-width="5.0"/>
<text x="221.8" y="766.4000000000001" font-family='"Liberation Serif", serif' font-size="25" letter-spacing="-0.5"><tspan font-style="italic">z</tspan><tspan dx="5.5" dy="1" font-size="28">=</tspan><tspan dx="2.5" dy="-1">0.6</tspan></text>
<path d="M166.5,781.85 H216.5" stroke="#228b22" stroke-width="5.0"/>
<text x="221.8" y="792.85" font-family='"Liberation Serif", serif' font-size="25" letter-spacing="-0.5"><tspan font-style="italic">z</tspan><tspan dx="5.5" dy="1" font-size="28">=</tspan><tspan dx="2.5" dy="-1">0.79</tspan></text>
<path d="M166.5,808.3000000000001 H216.5" stroke="#db7093" stroke-width="5.0"/>
<text x="221.8" y="819.3000000000001" font-family='"Liberation Serif", serif' font-size="25" letter-spacing="-0.5"><tspan font-style="italic">z</tspan><tspan dx="5.5" dy="1" font-size="28">=</tspan><tspan dx="2.5" dy="-1">0.99</tspan></text>
<path d="M192.0,823.75 V846.75 M181.0,834.75 H203.0" stroke="#555" stroke-width="1.1"/>
<rect x="186.9" y="829.6" width="10.2" height="10.2" rx="3.3" fill="#ff4500" fill-opacity="0.7" stroke="#2a2a2a" stroke-opacity="0.8" stroke-width="1.6"/>
<text x="221.8" y="844.15" font-family='"Liberation Serif", serif' font-size="22.6">Gilbank et al. (2010)</text>
<path d="M192.0,850.2 V873.2 M181.0,861.2 H203.0" stroke="#555" stroke-width="1.1"/>
<rect x="186.9" y="856.1" width="10.2" height="10.2" rx="3.3" fill="#4169e1" fill-opacity="0.7" stroke="#2a2a2a" stroke-opacity="0.8" stroke-width="1.6"/>
<text x="221.8" y="870.6" font-family='"Liberation Serif", serif' font-size="22.6">Comparat et al. (2015b)</text>
<path d="M192.0,876.65 V899.65 M181.0,887.65 H203.0" stroke="#555" stroke-width="1.1"/>
<rect x="186.9" y="882.5" width="10.2" height="10.2" rx="3.3" fill="#228b22" fill-opacity="0.7" stroke="#2a2a2a" stroke-opacity="0.8" stroke-width="1.6"/>
<text x="221.8" y="897.05" font-family='"Liberation Serif", serif' font-size="22.6">Comparat et al. (2015b)</text>
<path d="M192.0,903.1 V926.1 M181.0,914.1 H203.0" stroke="#555" stroke-width="1.1"/>
<rect x="186.9" y="909.0" width="10.2" height="10.2" rx="3.3" fill="#db7093" fill-opacity="0.7" stroke="#2a2a2a" stroke-opacity="0.8" stroke-width="1.6"/>
<text x="221.8" y="923.5" font-family='"Liberation Serif", serif' font-size="22.6">Comparat et al. (2015b)</text>
<path d="M684.5,781.85 H734.5" stroke="#ff4500" stroke-width="5.0"/>
<text x="739.8" y="792.85" font-family='"Liberation Serif", serif' font-size="25" letter-spacing="-0.5"><tspan font-style="italic">z</tspan><tspan dx="5.5" dy="1" font-size="28">=</tspan><tspan dx="2.5" dy="-1">0.36</tspan></text>
<path d="M684.5,808.3000000000001 H734.5" stroke="#4169e1" stroke-width="5.0"/>
<text x="739.8" y="819.3000000000001" font-family='"Liberation Serif", serif' font-size="25" letter-spacing="-0.5"><tspan font-style="italic">z</tspan><tspan dx="5.5" dy="1" font-size="28">=</tspan><tspan dx="2.5" dy="-1">0.65</tspan></text>
<path d="M684.5,834.75 H734.5" stroke="#228b22" stroke-width="5.0"/>
<text x="739.8" y="845.75" font-family='"Liberation Serif", serif' font-size="25" letter-spacing="-0.5"><tspan font-style="italic">z</tspan><tspan dx="5.5" dy="1" font-size="28">=</tspan><tspan dx="2.5" dy="-1">0.74</tspan></text>
<path d="M710.0,850.2 V873.2 M699.0,861.2 H721.0" stroke="#555" stroke-width="1.1"/>
<rect x="704.9" y="856.1" width="10.2" height="10.2" rx="3.3" fill="#ff4500" fill-opacity="0.7" stroke="#2a2a2a" stroke-opacity="0.8" stroke-width="1.6"/>
<text x="739.8" y="870.6" font-family='"Liberation Serif", serif' font-size="22.6">Comparat et al. (2016): DEEP2</text>
<path d="M710.0,876.65 V899.65 M699.0,887.65 H721.0" stroke="#555" stroke-width="1.1"/>
<rect x="704.9" y="882.5" width="10.2" height="10.2" rx="3.3" fill="#4169e1" fill-opacity="0.7" stroke="#2a2a2a" stroke-opacity="0.8" stroke-width="1.6"/>
<text x="739.8" y="897.05" font-family='"Liberation Serif", serif' font-size="22.6">Comparat et al. (2016): DEEP2</text>
<path d="M710.0,903.1 V926.1 M699.0,914.1 H721.0" stroke="#555" stroke-width="1.1"/>
<rect x="704.9" y="909.0" width="10.2" height="10.2" rx="3.3" fill="#228b22" fill-opacity="0.7" stroke="#2a2a2a" stroke-opacity="0.8" stroke-width="1.6"/>
<text x="739.8" y="923.5" font-family='"Liberation Serif", serif' font-size="22.6">Comparat et al. (2016): DEEP2</text>
<path d="M874.7,35.9 H925.3" stroke="#000" stroke-width="4.2" stroke-dasharray="10.7 8 10.7 8 20"/>
<path d="M872,71.3 H926.7" stroke="#000" stroke-width="4.8"/>
<text x="931" y="46" font-family='"Liberation Serif", serif' font-size="25.1">Not attenuated by dust</text>
<text x="931" y="80.7" font-family='"Liberation Serif", serif' font-size="25.1">Attenuated by dust</text>
<text x="181.5" y="152.4" font-family='"Liberation Serif", serif' font-size="38.5">H<tspan font-style="italic" dx="0.5">α</tspan></text>
<text x="686.5" y="152.4" font-family='"Liberation Serif", serif' font-size="38.5">H<tspan font-style="italic" dx="1">β</tspan></text>
<text y="627.4" font-family='"Liberation Serif", serif' font-size="39"><tspan x="191">O</tspan><tspan x="219" font-size="28.5" y="636.5">II</tspan></text>
<path d="M190.5,599.3 H186 V635.7 H190.5 M239.2,599.3 H243.7 V635.7 H239.2" fill="none" stroke="#000" stroke-width="1.7"/>
<text y="627.4" font-family='"Liberation Serif", serif' font-size="39"><tspan x="696.8">O</tspan><tspan x="724.5" font-size="28" y="636.3">III</tspan><tspan x="763.5" font-size="27" y="636.3">5007</tspan></text>
<path d="M695.2,599.3 H690.7 V635.7 H695.2 M753.5,599.3 H758 V635.7 H753.5" fill="none" stroke="#000" stroke-width="1.7"/>
<path d="M148.5,5.5 v16.5 M148.5,474.5 v-16.5" stroke="#000" stroke-width="2.4"/>
<path d="M180.5,5.5 v8.5 M180.5,474.5 v-8.5" stroke="#000" stroke-width="1.8"/>
<path d="M212.5,5.5 v8.5 M212.5,474.5 v-8.5" stroke="#000" stroke-width="1.8"/>
<path d="M244.5,5.5 v8.5 M244.5,474.5 v-8.5" stroke="#000" stroke-width="1.8"/>
<path d="M276.5,5.5 v16.5 M276.5,474.5 v-16.5" stroke="#000" stroke-width="2.4"/>
<path d="M308.5,5.5 v8.5 M308.5,474.5 v-8.5" stroke="#000" stroke-width="1.8"/>
<path d="M340.5,5.5 v8.5 M340.5,474.5 v-8.5" stroke="#000" stroke-width="1.8"/>
<path d="M372.5,5.5 v8.5 M372.5,474.5 v-8.5" stroke="#000" stroke-width="1.8"/>
<path d="M404.5,5.5 v16.5 M404.5,474.5 v-16.5" stroke="#000" stroke-width="2.4"/>
<path d="M436.5,5.5 v8.5 M436.5,474.5 v-8.5" stroke="#000" stroke-width="1.8"/>
<path d="M468.5,5.5 v8.5 M468.5,474.5 v-8.5" stroke="#000" stroke-width="1.8"/>
<path d="M500.5,5.5 v8.5 M500.5,474.5 v-8.5" stroke="#000" stroke-width="1.8"/>
<path d="M532.5,5.5 v16.5 M532.5,474.5 v-16.5" stroke="#000" stroke-width="2.4"/>
<path d="M564.5,5.5 v8.5 M564.5,474.5 v-8.5" stroke="#000" stroke-width="1.8"/>
<path d="M596.5,5.5 v8.5 M596.5,474.5 v-8.5" stroke="#000" stroke-width="1.8"/>
<path d="M628.5,5.5 v8.5 M628.5,474.5 v-8.5" stroke="#000" stroke-width="1.8"/>
<path d="M660.5,5.5 v16.5 M660.5,474.5 v-16.5" stroke="#000" stroke-width="2.4"/>
<path d="M148.5,474.5 h16.5 M660.5,474.5 h-16.5" stroke="#000" stroke-width="2.4"/>
<path d="M148.5,448.3 h8.5 M660.5,448.3 h-8.5" stroke="#000" stroke-width="1.8"/>
<path d="M148.5,433.0 h8.5 M660.5,433.0 h-8.5" stroke="#000" stroke-width="1.8"/>
<path d="M148.5,422.2 h8.5 M660.5,422.2 h-8.5" stroke="#000" stroke-width="1.8"/>
<path d="M148.5,413.8 h8.5 M660.5,413.8 h-8.5" stroke="#000" stroke-width="1.8"/>
<path d="M148.5,406.9 h8.5 M660.5,406.9 h-8.5" stroke="#000" stroke-width="1.8"/>
<path d="M148.5,401.1 h8.5 M660.5,401.1 h-8.5" stroke="#000" stroke-width="1.8"/>
<path d="M148.5,396.0 h8.5 M660.5,396.0 h-8.5" stroke="#000" stroke-width="1.8"/>
<path d="M148.5,391.6 h8.5 M660.5,391.6 h-8.5" stroke="#000" stroke-width="1.8"/>
<path d="M148.5,387.6 h16.5 M660.5,387.6 h-16.5" stroke="#000" stroke-width="2.4"/>
<path d="M148.5,361.5 h8.5 M660.5,361.5 h-8.5" stroke="#000" stroke-width="1.8"/>
<path d="M148.5,346.2 h8.5 M660.5,346.2 h-8.5" stroke="#000" stroke-width="1.8"/>
<path d="M148.5,335.3 h8.5 M660.5,335.3 h-8.5" stroke="#000" stroke-width="1.8"/>
<path d="M148.5,326.9 h8.5 M660.5,326.9 h-8.5" stroke="#000" stroke-width="1.8"/>
<path d="M148.5,320.0 h8.5 M660.5,320.0 h-8.5" stroke="#000" stroke-width="1.8"/>
<path d="M148.5,314.2 h8.5 M660.5,314.2 h-8.5" stroke="#000" stroke-width="1.8"/>
<path d="M148.5,309.2 h8.5 M660.5,309.2 h-8.5" stroke="#000" stroke-width="1.8"/>
<path d="M148.5,304.7 h8.5 M660.5,304.7 h-8.5" stroke="#000" stroke-width="1.8"/>
<path d="M148.5,300.7 h16.5 M660.5,300.7 h-16.5" stroke="#000" stroke-width="2.4"/>
<path d="M148.5,274.6 h8.5 M660.5,274.6 h-8.5" stroke="#000" stroke-width="1.8"/>
<path d="M148.5,259.3 h8.5 M660.5,259.3 h-8.5" stroke="#000" stroke-width="1.8"/>
<path d="M148.5,248.4 h8.5 M660.5,248.4 h-8.5" stroke="#000" stroke-width="1.8"/>
<path d="M148.5,240.0 h8.5 M660.5,240.0 h-8.5" stroke="#000" stroke-width="1.8"/>
<path d="M148.5,233.1 h8.5 M660.5,233.1 h-8.5" stroke="#000" stroke-width="1.8"/>
<path d="M148.5,227.3 h8.5 M660.5,227.3 h-8.5" stroke="#000" stroke-width="1.8"/>
<path d="M148.5,222.3 h8.5 M660.5,222.3 h-8.5" stroke="#000" stroke-width="1.8"/>
<path d="M148.5,217.8 h8.5 M660.5,217.8 h-8.5" stroke="#000" stroke-width="1.8"/>
<path d="M148.5,213.9 h16.5 M660.5,213.9 h-16.5" stroke="#000" stroke-width="2.4"/>
<path d="M148.5,187.7 h8.5 M660.5,187.7 h-8.5" stroke="#000" stroke-width="1.8"/>
<path d="M148.5,172.4 h8.5 M660.5,172.4 h-8.5" stroke="#000" stroke-width="1.8"/>
<path d="M148.5,161.6 h8.5 M660.5,161.6 h-8.5" stroke="#000" stroke-width="1.8"/>
<path d="M148.5,153.1 h8.5 M660.5,153.1 h-8.5" stroke="#000" stroke-width="1.8"/>
<path d="M148.5,146.3 h8.5 M660.5,146.3 h-8.5" stroke="#000" stroke-width="1.8"/>
<path d="M148.5,140.4 h8.5 M660.5,140.4 h-8.5" stroke="#000" stroke-width="1.8"/>
<path d="M148.5,135.4 h8.5 M660.5,135.4 h-8.5" stroke="#000" stroke-width="1.8"/>
<path d="M148.5,131.0 h8.5 M660.5,131.0 h-8.5" stroke="#000" stroke-width="1.8"/>
<path d="M148.5,127.0 h16.5 M660.5,127.0 h-16.5" stroke="#000" stroke-width="2.4"/>
<path d="M148.5,100.8 h8.5 M660.5,100.8 h-8.5" stroke="#000" stroke-width="1.8"/>
<path d="M148.5,85.5 h8.5 M660.5,85.5 h-8.5" stroke="#000" stroke-width="1.8"/>
<path d="M148.5,74.7 h8.5 M660.5,74.7 h-8.5" stroke="#000" stroke-width="1.8"/>
<path d="M148.5,66.3 h8.5 M660.5,66.3 h-8.5" stroke="#000" stroke-width="1.8"/>
<path d="M148.5,59.4 h8.5 M660.5,59.4 h-8.5" stroke="#000" stroke-width="1.8"/>
<path d="M148.5,53.6 h8.5 M660.5,53.6 h-8.5" stroke="#000" stroke-width="1.8"/>
<path d="M148.5,48.5 h8.5 M660.5,48.5 h-8.5" stroke="#000" stroke-width="1.8"/>
<path d="M148.5,44.1 h8.5 M660.5,44.1 h-8.5" stroke="#000" stroke-width="1.8"/>
<path d="M148.5,40.1 h16.5 M660.5,40.1 h-16.5" stroke="#000" stroke-width="2.4"/>
<path d="M148.5,13.9 h8.5 M660.5,13.9 h-8.5" stroke="#000" stroke-width="1.8"/>
<rect x="148.5" y="5.5" width="512" height="469" fill="none" stroke="#000" stroke-width="3.2"/>
<path d="M686.2,5.5 v8.5 M686.2,474.5 v-8.5" stroke="#000" stroke-width="1.8"/>
<path d="M719.0,5.5 v8.5 M719.0,474.5 v-8.5" stroke="#000" stroke-width="1.8"/>
<path d="M751.8,5.5 v8.5 M751.8,474.5 v-8.5" stroke="#000" stroke-width="1.8"/>
<path d="M784.7,5.5 v16.5 M784.7,474.5 v-16.5" stroke="#000" stroke-width="2.4"/>
<path d="M817.5,5.5 v8.5 M817.5,474.5 v-8.5" stroke="#000" stroke-width="1.8"/>
<path d="M850.3,5.5 v8.5 M850.3,474.5 v-8.5" stroke="#000" stroke-width="1.8"/>
<path d="M883.1,5.5 v8.5 M883.1,474.5 v-8.5" stroke="#000" stroke-width="1.8"/>
<path d="M915.9,5.5 v16.5 M915.9,474.5 v-16.5" stroke="#000" stroke-width="2.4"/>
<path d="M948.8,5.5 v8.5 M948.8,474.5 v-8.5" stroke="#000" stroke-width="1.8"/>
<path d="M981.6,5.5 v8.5 M981.6,474.5 v-8.5" stroke="#000" stroke-width="1.8"/>
<path d="M1014.4,5.5 v8.5 M1014.4,474.5 v-8.5" stroke="#000" stroke-width="1.8"/>
<path d="M1047.2,5.5 v16.5 M1047.2,474.5 v-16.5" stroke="#000" stroke-width="2.4"/>
<path d="M1080.0,5.5 v8.5 M1080.0,474.5 v-8.5" stroke="#000" stroke-width="1.8"/>
<path d="M1112.9,5.5 v8.5 M1112.9,474.5 v-8.5" stroke="#000" stroke-width="1.8"/>
<path d="M1145.7,5.5 v8.5 M1145.7,474.5 v-8.5" stroke="#000" stroke-width="1.8"/>
<path d="M1178.5,5.5 v16.5 M1178.5,474.5 v-16.5" stroke="#000" stroke-width="2.4"/>
<path d="M666.5,474.5 h16.5 M1178.5,474.5 h-16.5" stroke="#000" stroke-width="2.4"/>
<path d="M666.5,448.3 h8.5 M1178.5,448.3 h-8.5" stroke="#000" stroke-width="1.8"/>
<path d="M666.5,433.0 h8.5 M1178.5,433.0 h-8.5" stroke="#000" stroke-width="1.8"/>
<path d="M666.5,422.2 h8.5 M1178.5,422.2 h-8.5" stroke="#000" stroke-width="1.8"/>
<path d="M666.5,413.8 h8.5 M1178.5,413.8 h-8.5" stroke="#000" stroke-width="1.8"/>
<path d="M666.5,406.9 h8.5 M1178.5,406.9 h-8.5" stroke="#000" stroke-width="1.8"/>
<path d="M666.5,401.1 h8.5 M1178.5,401.1 h-8.5" stroke="#000" stroke-width="1.8"/>
<path d="M666.5,396.0 h8.5 M1178.5,396.0 h-8.5" stroke="#000" stroke-width="1.8"/>
<path d="M666.5,391.6 h8.5 M1178.5,391.6 h-8.5" stroke="#000" stroke-width="1.8"/>
<path d="M666.5,387.6 h16.5 M1178.5,387.6 h-16.5" stroke="#000" stroke-width="2.4"/>
<path d="M666.5,361.5 h8.5 M1178.5,361.5 h-8.5" stroke="#000" stroke-width="1.8"/>
<path d="M666.5,346.2 h8.5 M1178.5,346.2 h-8.5" stroke="#000" stroke-width="1.8"/>
<path d="M666.5,335.3 h8.5 M1178.5,335.3 h-8.5" stroke="#000" stroke-width="1.8"/>
<path d="M666.5,326.9 h8.5 M1178.5,326.9 h-8.5" stroke="#000" stroke-width="1.8"/>
<path d="M666.5,320.0 h8.5 M1178.5,320.0 h-8.5" stroke="#000" stroke-width="1.8"/>
<path d="M666.5,314.2 h8.5 M1178.5,314.2 h-8.5" stroke="#000" stroke-width="1.8"/>
<path d="M666.5,309.2 h8.5 M1178.5,309.2 h-8.5" stroke="#000" stroke-width="1.8"/>
<path d="M666.5,304.7 h8.5 M1178.5,304.7 h-8.5" stroke="#000" stroke-width="1.8"/>
<path d="M666.5,300.7 h16.5 M1178.5,300.7 h-16.5" stroke="#000" stroke-width="2.4"/>
<path d="M666.5,274.6 h8.5 M1178.5,274.6 h-8.5" stroke="#000" stroke-width="1.8"/>
<path d="M666.5,259.3 h8.5 M1178.5,259.3 h-8.5" stroke="#000" stroke-width="1.8"/>
<path d="M666.5,248.4 h8.5 M1178.5,248.4 h-8.5" stroke="#000" stroke-width="1.8"/>
<path d="M666.5,240.0 h8.5 M1178.5,240.0 h-8.5" stroke="#000" stroke-width="1.8"/>
<path d="M666.5,233.1 h8.5 M1178.5,233.1 h-8.5" stroke="#000" stroke-width="1.8"/>
<path d="M666.5,227.3 h8.5 M1178.5,227.3 h-8.5" stroke="#000" stroke-width="1.8"/>
<path d="M666.5,222.3 h8.5 M1178.5,222.3 h-8.5" stroke="#000" stroke-width="1.8"/>
<path d="M666.5,217.8 h8.5 M1178.5,217.8 h-8.5" stroke="#000" stroke-width="1.8"/>
<path d="M666.5,213.9 h16.5 M1178.5,213.9 h-16.5" stroke="#000" stroke-width="2.4"/>
<path d="M666.5,187.7 h8.5 M1178.5,187.7 h-8.5" stroke="#000" stroke-width="1.8"/>
<path d="M666.5,172.4 h8.5 M1178.5,172.4 h-8.5" stroke="#000" stroke-width="1.8"/>
<path d="M666.5,161.6 h8.5 M1178.5,161.6 h-8.5" stroke="#000" stroke-width="1.8"/>
<path d="M666.5,153.1 h8.5 M1178.5,153.1 h-8.5" stroke="#000" stroke-width="1.8"/>
<path d="M666.5,146.3 h8.5 M1178.5,146.3 h-8.5" stroke="#000" stroke-width="1.8"/>
<path d="M666.5,140.4 h8.5 M1178.5,140.4 h-8.5" stroke="#000" stroke-width="1.8"/>
<path d="M666.5,135.4 h8.5 M1178.5,135.4 h-8.5" stroke="#000" stroke-width="1.8"/>
<path d="M666.5,131.0 h8.5 M1178.5,131.0 h-8.5" stroke="#000" stroke-width="1.8"/>
<path d="M666.5,127.0 h16.5 M1178.5,127.0 h-16.5" stroke="#000" stroke-width="2.4"/>
<path d="M666.5,100.8 h8.5 M1178.5,100.8 h-8.5" stroke="#000" stroke-width="1.8"/>
<path d="M666.5,85.5 h8.5 M1178.5,85.5 h-8.5" stroke="#000" stroke-width="1.8"/>
<path d="M666.5,74.7 h8.5 M1178.5,74.7 h-8.5" stroke="#000" stroke-width="1.8"/>
<path d="M666.5,66.3 h8.5 M1178.5,66.3 h-8.5" stroke="#000" stroke-width="1.8"/>
<path d="M666.5,59.4 h8.5 M1178.5,59.4 h-8.5" stroke="#000" stroke-width="1.8"/>
<path d="M666.5,53.6 h8.5 M1178.5,53.6 h-8.5" stroke="#000" stroke-width="1.8"/>
<path d="M666.5,48.5 h8.5 M1178.5,48.5 h-8.5" stroke="#000" stroke-width="1.8"/>
<path d="M666.5,44.1 h8.5 M1178.5,44.1 h-8.5" stroke="#000" stroke-width="1.8"/>
<path d="M666.5,40.1 h16.5 M1178.5,40.1 h-16.5" stroke="#000" stroke-width="2.4"/>
<path d="M666.5,13.9 h8.5 M1178.5,13.9 h-8.5" stroke="#000" stroke-width="1.8"/>
<rect x="666.5" y="5.5" width="512" height="469" fill="none" stroke="#000" stroke-width="3.2"/>
<path d="M148.5,479.5 v16.5 M148.5,948.5 v-16.5" stroke="#000" stroke-width="2.4"/>
<path d="M180.5,479.5 v8.5 M180.5,948.5 v-8.5" stroke="#000" stroke-width="1.8"/>
<path d="M212.5,479.5 v8.5 M212.5,948.5 v-8.5" stroke="#000" stroke-width="1.8"/>
<path d="M244.5,479.5 v8.5 M244.5,948.5 v-8.5" stroke="#000" stroke-width="1.8"/>
<path d="M276.5,479.5 v16.5 M276.5,948.5 v-16.5" stroke="#000" stroke-width="2.4"/>
<path d="M308.5,479.5 v8.5 M308.5,948.5 v-8.5" stroke="#000" stroke-width="1.8"/>
<path d="M340.5,479.5 v8.5 M340.5,948.5 v-8.5" stroke="#000" stroke-width="1.8"/>
<path d="M372.5,479.5 v8.5 M372.5,948.5 v-8.5" stroke="#000" stroke-width="1.8"/>
<path d="M404.5,479.5 v16.5 M404.5,948.5 v-16.5" stroke="#000" stroke-width="2.4"/>
<path d="M436.5,479.5 v8.5 M436.5,948.5 v-8.5" stroke="#000" stroke-width="1.8"/>
<path d="M468.5,479.5 v8.5 M468.5,948.5 v-8.5" stroke="#000" stroke-width="1.8"/>
<path d="M500.5,479.5 v8.5 M500.5,948.5 v-8.5" stroke="#000" stroke-width="1.8"/>
<path d="M532.5,479.5 v16.5 M532.5,948.5 v-16.5" stroke="#000" stroke-width="2.4"/>
<path d="M564.5,479.5 v8.5 M564.5,948.5 v-8.5" stroke="#000" stroke-width="1.8"/>
<path d="M596.5,479.5 v8.5 M596.5,948.5 v-8.5" stroke="#000" stroke-width="1.8"/>
<path d="M628.5,479.5 v8.5 M628.5,948.5 v-8.5" stroke="#000" stroke-width="1.8"/>
<path d="M660.5,479.5 v16.5 M660.5,948.5 v-16.5" stroke="#000" stroke-width="2.4"/>
<path d="M148.5,948.5 h16.5 M660.5,948.5 h-16.5" stroke="#000" stroke-width="2.4"/>
<path d="M148.5,922.3 h8.5 M660.5,922.3 h-8.5" stroke="#000" stroke-width="1.8"/>
<path d="M148.5,907.0 h8.5 M660.5,907.0 h-8.5" stroke="#000" stroke-width="1.8"/>
<path d="M148.5,896.2 h8.5 M660.5,896.2 h-8.5" stroke="#000" stroke-width="1.8"/>
<path d="M148.5,887.8 h8.5 M660.5,887.8 h-8.5" stroke="#000" stroke-width="1.8"/>
<path d="M148.5,880.9 h8.5 M660.5,880.9 h-8.5" stroke="#000" stroke-width="1.8"/>
<path d="M148.5,875.1 h8.5 M660.5,875.1 h-8.5" stroke="#000" stroke-width="1.8"/>
<path d="M148.5,870.0 h8.5 M660.5,870.0 h-8.5" stroke="#000" stroke-width="1.8"/>
<path d="M148.5,865.6 h8.5 M660.5,865.6 h-8.5" stroke="#000" stroke-width="1.8"/>
<path d="M148.5,861.6 h16.5 M660.5,861.6 h-16.5" stroke="#000" stroke-width="2.4"/>
<path d="M148.5,835.5 h8.5 M660.5,835.5 h-8.5" stroke="#000" stroke-width="1.8"/>
<path d="M148.5,820.2 h8.5 M660.5,820.2 h-8.5" stroke="#000" stroke-width="1.8"/>
<path d="M148.5,809.3 h8.5 M660.5,809.3 h-8.5" stroke="#000" stroke-width="1.8"/>
<path d="M148.5,800.9 h8.5 M660.5,800.9 h-8.5" stroke="#000" stroke-width="1.8"/>
<path d="M148.5,794.0 h8.5 M660.5,794.0 h-8.5" stroke="#000" stroke-width="1.8"/>
<path d="M148.5,788.2 h8.5 M660.5,788.2 h-8.5" stroke="#000" stroke-width="1.8"/>
<path d="M148.5,783.2 h8.5 M660.5,783.2 h-8.5" stroke="#000" stroke-width="1.8"/>
<path d="M148.5,778.7 h8.5 M660.5,778.7 h-8.5" stroke="#000" stroke-width="1.8"/>
<path d="M148.5,774.7 h16.5 M660.5,774.7 h-16.5" stroke="#000" stroke-width="2.4"/>
<path d="M148.5,748.6 h8.5 M660.5,748.6 h-8.5" stroke="#000" stroke-width="1.8"/>
<path d="M148.5,733.3 h8.5 M660.5,733.3 h-8.5" stroke="#000" stroke-width="1.8"/>
<path d="M148.5,722.4 h8.5 M660.5,722.4 h-8.5" stroke="#000" stroke-width="1.8"/>
<path d="M148.5,714.0 h8.5 M660.5,714.0 h-8.5" stroke="#000" stroke-width="1.8"/>
<path d="M148.5,707.1 h8.5 M660.5,707.1 h-8.5" stroke="#000" stroke-width="1.8"/>
<path d="M148.5,701.3 h8.5 M660.5,701.3 h-8.5" stroke="#000" stroke-width="1.8"/>
<path d="M148.5,696.3 h8.5 M660.5,696.3 h-8.5" stroke="#000" stroke-width="1.8"/>
<path d="M148.5,691.8 h8.5 M660.5,691.8 h-8.5" stroke="#000" stroke-width="1.8"/>
<path d="M148.5,687.9 h16.5 M660.5,687.9 h-16.5" stroke="#000" stroke-width="2.4"/>
<path d="M148.5,661.7 h8.5 M660.5,661.7 h-8.5" stroke="#000" stroke-width="1.8"/>
<path d="M148.5,646.4 h8.5 M660.5,646.4 h-8.5" stroke="#000" stroke-width="1.8"/>
<path d="M148.5,635.6 h8.5 M660.5,635.6 h-8.5" stroke="#000" stroke-width="1.8"/>
<path d="M148.5,627.1 h8.5 M660.5,627.1 h-8.5" stroke="#000" stroke-width="1.8"/>
<path d="M148.5,620.3 h8.5 M660.5,620.3 h-8.5" stroke="#000" stroke-width="1.8"/>
<path d="M148.5,614.4 h8.5 M660.5,614.4 h-8.5" stroke="#000" stroke-width="1.8"/>
<path d="M148.5,609.4 h8.5 M660.5,609.4 h-8.5" stroke="#000" stroke-width="1.8"/>
<path d="M148.5,605.0 h8.5 M660.5,605.0 h-8.5" stroke="#000" stroke-width="1.8"/>
<path d="M148.5,601.0 h16.5 M660.5,601.0 h-16.5" stroke="#000" stroke-width="2.4"/>
<path d="M148.5,574.8 h8.5 M660.5,574.8 h-8.5" stroke="#000" stroke-width="1.8"/>
<path d="M148.5,559.5 h8.5 M660.5,559.5 h-8.5" stroke="#000" stroke-width="1.8"/>
<path d="M148.5,548.7 h8.5 M660.5,548.7 h-8.5" stroke="#000" stroke-width="1.8"/>
<path d="M148.5,540.3 h8.5 M660.5,540.3 h-8.5" stroke="#000" stroke-width="1.8"/>
<path d="M148.5,533.4 h8.5 M660.5,533.4 h-8.5" stroke="#000" stroke-width="1.8"/>
<path d="M148.5,527.6 h8.5 M660.5,527.6 h-8.5" stroke="#000" stroke-width="1.8"/>
<path d="M148.5,522.5 h8.5 M660.5,522.5 h-8.5" stroke="#000" stroke-width="1.8"/>
<path d="M148.5,518.1 h8.5 M660.5,518.1 h-8.5" stroke="#000" stroke-width="1.8"/>
<path d="M148.5,514.1 h16.5 M660.5,514.1 h-16.5" stroke="#000" stroke-width="2.4"/>
<path d="M148.5,487.9 h8.5 M660.5,487.9 h-8.5" stroke="#000" stroke-width="1.8"/>
<rect x="148.5" y="479.5" width="512" height="469" fill="none" stroke="#000" stroke-width="3.2"/>
<path d="M686.2,479.5 v8.5 M686.2,948.5 v-8.5" stroke="#000" stroke-width="1.8"/>
<path d="M719.0,479.5 v8.5 M719.0,948.5 v-8.5" stroke="#000" stroke-width="1.8"/>
<path d="M751.8,479.5 v8.5 M751.8,948.5 v-8.5" stroke="#000" stroke-width="1.8"/>
<path d="M784.7,479.5 v16.5 M784.7,948.5 v-16.5" stroke="#000" stroke-width="2.4"/>
<path d="M817.5,479.5 v8.5 M817.5,948.5 v-8.5" stroke="#000" stroke-width="1.8"/>
<path d="M850.3,479.5 v8.5 M850.3,948.5 v-8.5" stroke="#000" stroke-width="1.8"/>
<path d="M883.1,479.5 v8.5 M883.1,948.5 v-8.5" stroke="#000" stroke-width="1.8"/>
<path d="M915.9,479.5 v16.5 M915.9,948.5 v-16.5" stroke="#000" stroke-width="2.4"/>
<path d="M948.8,479.5 v8.5 M948.8,948.5 v-8.5" stroke="#000" stroke-width="1.8"/>
<path d="M981.6,479.5 v8.5 M981.6,948.5 v-8.5" stroke="#000" stroke-width="1.8"/>
<path d="M1014.4,479.5 v8.5 M1014.4,948.5 v-8.5" stroke="#000" stroke-width="1.8"/>
<path d="M1047.2,479.5 v16.5 M1047.2,948.5 v-16.5" stroke="#000" stroke-width="2.4"/>
<path d="M1080.0,479.5 v8.5 M1080.0,948.5 v-8.5" stroke="#000" stroke-width="1.8"/>
<path d="M1112.9,479.5 v8.5 M1112.9,948.5 v-8.5" stroke="#000" stroke-width="1.8"/>
<path d="M1145.7,479.5 v8.5 M1145.7,948.5 v-8.5" stroke="#000" stroke-width="1.8"/>
<path d="M1178.5,479.5 v16.5 M1178.5,948.5 v-16.5" stroke="#000" stroke-width="2.4"/>
<path d="M666.5,948.5 h16.5 M1178.5,948.5 h-16.5" stroke="#000" stroke-width="2.4"/>
<path d="M666.5,922.3 h8.5 M1178.5,922.3 h-8.5" stroke="#000" stroke-width="1.8"/>
<path d="M666.5,907.0 h8.5 M1178.5,907.0 h-8.5" stroke="#000" stroke-width="1.8"/>
<path d="M666.5,896.2 h8.5 M1178.5,896.2 h-8.5" stroke="#000" stroke-width="1.8"/>
<path d="M666.5,887.8 h8.5 M1178.5,887.8 h-8.5" stroke="#000" stroke-width="1.8"/>
<path d="M666.5,880.9 h8.5 M1178.5,880.9 h-8.5" stroke="#000" stroke-width="1.8"/>
<path d="M666.5,875.1 h8.5 M1178.5,875.1 h-8.5" stroke="#000" stroke-width="1.8"/>
<path d="M666.5,870.0 h8.5 M1178.5,870.0 h-8.5" stroke="#000" stroke-width="1.8"/>
<path d="M666.5,865.6 h8.5 M1178.5,865.6 h-8.5" stroke="#000" stroke-width="1.8"/>
<path d="M666.5,861.6 h16.5 M1178.5,861.6 h-16.5" stroke="#000" stroke-width="2.4"/>
<path d="M666.5,835.5 h8.5 M1178.5,835.5 h-8.5" stroke="#000" stroke-width="1.8"/>
<path d="M666.5,820.2 h8.5 M1178.5,820.2 h-8.5" stroke="#000" stroke-width="1.8"/>
<path d="M666.5,809.3 h8.5 M1178.5,809.3 h-8.5" stroke="#000" stroke-width="1.8"/>
<path d="M666.5,800.9 h8.5 M1178.5,800.9 h-8.5" stroke="#000" stroke-width="1.8"/>
<path d="M666.5,794.0 h8.5 M1178.5,794.0 h-8.5" stroke="#000" stroke-width="1.8"/>
<path d="M666.5,788.2 h8.5 M1178.5,788.2 h-8.5" stroke="#000" stroke-width="1.8"/>
<path d="M666.5,783.2 h8.5 M1178.5,783.2 h-8.5" stroke="#000" stroke-width="1.8"/>
<path d="M666.5,778.7 h8.5 M1178.5,778.7 h-8.5" stroke="#000" stroke-width="1.8"/>
<path d="M666.5,774.7 h16.5 M1178.5,774.7 h-16.5" stroke="#000" stroke-width="2.4"/>
<path d="M666.5,748.6 h8.5 M1178.5,748.6 h-8.5" stroke="#000" stroke-width="1.8"/>
<path d="M666.5,733.3 h8.5 M1178.5,733.3 h-8.5" stroke="#000" stroke-width="1.8"/>
<path d="M666.5,722.4 h8.5 M1178.5,722.4 h-8.5" stroke="#000" stroke-width="1.8"/>
<path d="M666.5,714.0 h8.5 M1178.5,714.0 h-8.5" stroke="#000" stroke-width="1.8"/>
<path d="M666.5,707.1 h8.5 M1178.5,707.1 h-8.5" stroke="#000" stroke-width="1.8"/>
<path d="M666.5,701.3 h8.5 M1178.5,701.3 h-8.5" stroke="#000" stroke-width="1.8"/>
<path d="M666.5,696.3 h8.5 M1178.5,696.3 h-8.5" stroke="#000" stroke-width="1.8"/>
<path d="M666.5,691.8 h8.5 M1178.5,691.8 h-8.5" stroke="#000" stroke-width="1.8"/>
<path d="M666.5,687.9 h16.5 M1178.5,687.9 h-16.5" stroke="#000" stroke-width="2.4"/>
<path d="M666.5,661.7 h8.5 M1178.5,661.7 h-8.5" stroke="#000" stroke-width="1.8"/>
<path d="M666.5,646.4 h8.5 M1178.5,646.4 h-8.5" stroke="#000" stroke-width="1.8"/>
<path d="M666.5,635.6 h8.5 M1178.5,635.6 h-8.5" stroke="#000" stroke-width="1.8"/>
<path d="M666.5,627.1 h8.5 M1178.5,627.1 h-8.5" stroke="#000" stroke-width="1.8"/>
<path d="M666.5,620.3 h8.5 M1178.5,620.3 h-8.5" stroke="#000" stroke-width="1.8"/>
<path d="M666.5,614.4 h8.5 M1178.5,614.4 h-8.5" stroke="#000" stroke-width="1.8"/>
<path d="M666.5,609.4 h8.5 M1178.5,609.4 h-8.5" stroke="#000" stroke-width="1.8"/>
<path d="M666.5,605.0 h8.5 M1178.5,605.0 h-8.5" stroke="#000" stroke-width="1.8"/>
<path d="M666.5,601.0 h16.5 M1178.5,601.0 h-16.5" stroke="#000" stroke-width="2.4"/>
<path d="M666.5,574.8 h8.5 M1178.5,574.8 h-8.5" stroke="#000" stroke-width="1.8"/>
<path d="M666.5,559.5 h8.5 M1178.5,559.5 h-8.5" stroke="#000" stroke-width="1.8"/>
<path d="M666.5,548.7 h8.5 M1178.5,548.7 h-8.5" stroke="#000" stroke-width="1.8"/>
<path d="M666.5,540.3 h8.5 M1178.5,540.3 h-8.5" stroke="#000" stroke-width="1.8"/>
<path d="M666.5,533.4 h8.5 M1178.5,533.4 h-8.5" stroke="#000" stroke-width="1.8"/>
<path d="M666.5,527.6 h8.5 M1178.5,527.6 h-8.5" stroke="#000" stroke-width="1.8"/>
<path d="M666.5,522.5 h8.5 M1178.5,522.5 h-8.5" stroke="#000" stroke-width="1.8"/>
<path d="M666.5,518.1 h8.5 M1178.5,518.1 h-8.5" stroke="#000" stroke-width="1.8"/>
<path d="M666.5,514.1 h16.5 M1178.5,514.1 h-16.5" stroke="#000" stroke-width="2.4"/>
<path d="M666.5,487.9 h8.5 M1178.5,487.9 h-8.5" stroke="#000" stroke-width="1.8"/>
<rect x="666.5" y="479.5" width="512" height="469" fill="none" stroke="#000" stroke-width="3.2"/>
<text x="128.3" y="49.9" text-anchor="end" font-family='"Liberation Serif", serif' font-size="40.5">0.01</text>
<text x="62.5" y="137.3" font-family='"Liberation Serif", serif' font-size="41.5">10<tspan font-size="29" dy="-14" dx="1.5">−</tspan><tspan font-size="27" dy="-3" dx="3.5">3</tspan></text>
<text x="62.5" y="224.2" font-family='"Liberation Serif", serif' font-size="41.5">10<tspan font-size="29" dy="-14" dx="1.5">−</tspan><tspan font-size="27" dy="-3" dx="3.5">4</tspan></text>
<text x="62.5" y="311.0" font-family='"Liberation Serif", serif' font-size="41.5">10<tspan font-size="29" dy="-14" dx="1.5">−</tspan><tspan font-size="27" dy="-3" dx="3.5">5</tspan></text>
<text x="62.5" y="397.9" font-family='"Liberation Serif", serif' font-size="41.5">10<tspan font-size="29" dy="-14" dx="1.5">−</tspan><tspan font-size="27" dy="-3" dx="3.5">6</tspan></text>
<text x="62.5" y="484.8" font-family='"Liberation Serif", serif' font-size="41.5">10<tspan font-size="29" dy="-14" dx="1.5">−</tspan><tspan font-size="27" dy="-3" dx="3.5">7</tspan></text>
<text x="128.3" y="523.9" text-anchor="end" font-family='"Liberation Serif", serif' font-size="40.5">0.01</text>
<text x="62.5" y="611.3" font-family='"Liberation Serif", serif' font-size="41.5">10<tspan font-size="29" dy="-14" dx="1.5">−</tspan><tspan font-size="27" dy="-3" dx="3.5">3</tspan></text>
<text x="62.5" y="698.2" font-family='"Liberation Serif", serif' font-size="41.5">10<tspan font-size="29" dy="-14" dx="1.5">−</tspan><tspan font-size="27" dy="-3" dx="3.5">4</tspan></text>
<text x="62.5" y="785.0" font-family='"Liberation Serif", serif' font-size="41.5">10<tspan font-size="29" dy="-14" dx="1.5">−</tspan><tspan font-size="27" dy="-3" dx="3.5">5</tspan></text>
<text x="62.5" y="871.9" font-family='"Liberation Serif", serif' font-size="41.5">10<tspan font-size="29" dy="-14" dx="1.5">−</tspan><tspan font-size="27" dy="-3" dx="3.5">6</tspan></text>
<text x="62.5" y="958.8" font-family='"Liberation Serif", serif' font-size="41.5">10<tspan font-size="29" dy="-14" dx="1.5">−</tspan><tspan font-size="27" dy="-3" dx="3.5">7</tspan></text>
<text x="149.0" y="984" text-anchor="middle" font-family='"Liberation Serif", serif' font-size="37">40</text>
<text x="277.0" y="984" text-anchor="middle" font-family='"Liberation Serif", serif' font-size="37">41</text>
<text x="405.0" y="984" text-anchor="middle" font-family='"Liberation Serif", serif' font-size="37">42</text>
<text x="533.0" y="984" text-anchor="middle" font-family='"Liberation Serif", serif' font-size="37">43</text>
<text x="661.0" y="984" text-anchor="middle" font-family='"Liberation Serif", serif' font-size="37">44</text>
<text x="785.2" y="984" text-anchor="middle" font-family='"Liberation Serif", serif' font-size="37">41</text>
<text x="916.4" y="984" text-anchor="middle" font-family='"Liberation Serif", serif' font-size="37">42</text>
<text x="1047.7" y="984" text-anchor="middle" font-family='"Liberation Serif", serif' font-size="37">43</text>
<text x="1179.0" y="984" text-anchor="middle" font-family='"Liberation Serif", serif' font-size="37">44</text>
<text y="1027.5" font-family='"Liberation Serif", serif' font-size="45"><tspan x="548">log</tspan><tspan x="603" font-size="31" dy="10">10</tspan><tspan x="631" dy="-10">(</tspan><tspan x="648">L</tspan><tspan x="675.5">/</tspan><tspan x="694.5">erg</tspan><tspan x="764.5">s</tspan><tspan x="783" font-size="31" dy="-15.5">−</tspan><tspan x="805" font-size="27" dy="-3.8">1</tspan><tspan x="826" dy="19.3">)</tspan></text>
<text transform="translate(47.8,700) rotate(-90)" font-family='"Liberation Serif", serif' font-size="49"><tspan x="22" y="0" font-style="italic">ϕ</tspan><tspan x="77.5" y="0">Mpc</tspan><tspan x="169" y="-16" font-size="38">−</tspan><tspan x="192" y="-20.5" font-size="35">3</tspan><tspan x="218" y="0">dex</tspan><tspan x="291" y="-16" font-size="38">−</tspan><tspan x="315" y="-20.5" font-size="35">1</tspan></text>
<path d="M12.6,623.5 V628.9 H58.2 V623.5 M12.6,359 V352.6 H58.2 V359" fill="none" stroke="#000" stroke-width="1.7"/>
</svg></body></html>
